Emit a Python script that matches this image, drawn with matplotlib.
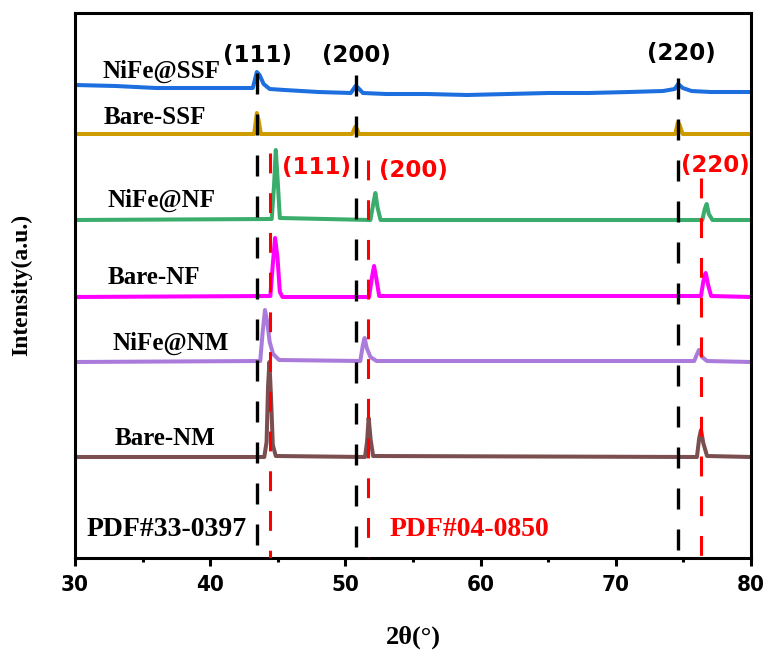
import matplotlib
matplotlib.use('Agg')
import matplotlib.pyplot as plt
from matplotlib.ticker import MultipleLocator

# 2theta / intensity points (intensity in plot units, offsets included)
ssf_nife_x = [30, 33, 36, 39, 42, 43.15, 43.45, 43.65, 43.95, 44.4, 45.5, 48, 50.4, 50.75, 50.95, 51.3,
              53, 56, 59, 62, 65, 68, 71, 73.5, 74.35, 74.62, 74.95, 75.6, 77, 80]
ssf_nife_y = [473, 472, 470, 470, 470, 470, 486, 483, 474, 469, 468, 466, 465, 472, 470, 465,
              464, 464, 463, 464, 465, 465, 466, 467, 469, 474, 470, 467, 466, 466]

ssf_bare_x = [30, 43.25, 43.45, 43.58, 43.75, 50.5, 50.72, 50.85, 51.0, 74.4, 74.6, 74.72, 74.95, 80]
ssf_bare_y = [424, 424, 445, 438, 424, 424, 431, 429, 424, 424, 436, 433, 424, 424]

nf_nife_x = [30, 44.55, 44.72, 44.85, 44.98, 45.15, 51.85, 52.07, 52.22, 52.37, 52.6, 76.4, 76.58, 76.72, 76.88, 77.15, 80]
nf_nife_y = [338, 339, 372, 408, 380, 340, 338, 355, 365, 351, 338, 338, 349, 354, 344, 338, 338]

nf_bare_x = [30, 44.45, 44.62, 44.8, 44.98, 45.15, 45.35, 51.75, 51.97, 52.12, 52.28, 52.5, 76.3, 76.48, 76.65, 76.83, 77.05, 80]
nf_bare_y = [261, 262, 292, 320, 300, 266, 261, 261, 281, 292, 280, 262, 262, 277, 285, 273, 262, 261]

nm_nife_x = [30, 43.7, 43.88, 44.05, 44.22, 44.4, 44.65, 45.1, 51.1, 51.28, 51.42, 51.58, 51.85, 52.3,
             75.8, 75.98, 76.15, 76.38, 76.75, 80]
nm_nife_y = [196, 197, 226, 248, 236, 216, 204, 198, 197, 212, 220, 210, 201, 197,
             197, 203, 208, 201, 197, 196]

nm_bare_x = [30, 44.0, 44.17, 44.28, 44.38, 44.5, 44.63, 44.85, 51.45, 51.6, 51.72, 51.87, 52.05,
             76.0, 76.17, 76.3, 76.47, 76.75, 80]
nm_bare_y = [101, 101, 116, 172, 196, 160, 113, 102, 101, 116, 140, 118, 102,
             101, 120, 128, 115, 102, 101]

series_x = [ssf_nife_x, ssf_bare_x, nf_nife_x, nf_bare_x, nm_nife_x, nm_bare_x]
series_y = [ssf_nife_y, ssf_bare_y, nf_nife_y, nf_bare_y, nm_nife_y, nm_bare_y]
series_names = ['NiFe@SSF', 'Bare-SSF', 'NiFe@NF', 'Bare-NF', 'NiFe@NM', 'Bare-NM']
series_colors = ['#1d6fe0', '#cf9c00', '#3aad6c', '#ff00ff', '#ab7bdc', '#7b4f50']

# reference lines: PDF#33-0397 (black) and PDF#04-0850 (red)
ref_black_pos = [43.45, 50.78, 74.62]
ref_black_top = [485, 483, 480]
ref_red_pos = [44.42, 51.7, 76.3]
ref_red_top = [405, 398, 380]
hkl = ['(111)', '(200)', '(220)']

serif = 'Liberation Serif'

fig = plt.figure(figsize=(7.66, 6.53), dpi=100)
ax = fig.add_axes([75 / 766, 1 - 558 / 653, 676 / 766, 545 / 653])

for xs, ys, c in zip(series_x, series_y, series_colors):
    ax.plot(xs, ys, color=c, lw=2.9, solid_joinstyle='round', zorder=2)

for p, t in zip(ref_black_pos, ref_black_top):
    ax.plot([p, p], [t, 0], color='black', lw=2.4, dashes=(6.3, 6), zorder=3)
for p, t in zip(ref_red_pos, ref_red_top):
    ax.plot([p, p], [t, 0], color='red', lw=2.2, dashes=(6.5, 6.5), zorder=3)

# sample labels
label_xy = [(36.43, 487), (35.92, 441), (36.43, 358), (35.84, 281), (37.1, 215), (36.66, 120)]
for name, (lx, ly) in zip(series_names, label_xy):
    ax.text(lx, ly, name, family=serif, weight='bold', fontsize=18, ha='center', va='center')

ax.text(36.8, 28, 'PDF#33-0397', family=serif, weight='bold', fontsize=20, ha='center', va='center')
ax.text(59.2, 28, 'PDF#04-0850', family=serif, weight='bold', fontsize=20, ha='center', va='center',
        color='red')

black_hkl_xy = [(43.5, 503), (50.78, 503), (74.82, 505)]
red_hkl_xy = [(47.83, 391), (55.0, 388), (77.34, 393)]
for h, (hx, hy) in zip(hkl, black_hkl_xy):
    ax.text(hx, hy, h, family='DejaVu Sans', weight='bold', fontsize=16.5, ha='center', va='center')
for h, (hx, hy) in zip(hkl, red_hkl_xy):
    ax.text(hx, hy, h, family='DejaVu Sans', weight='bold', fontsize=16.5, ha='center', va='center',
            color='red')

ax.set_xlim(30, 80)
ax.set_ylim(0, 545)
ax.set_yticks([])
ax.xaxis.set_major_locator(MultipleLocator(10))
ax.xaxis.set_minor_locator(MultipleLocator(5))
ax.tick_params(axis='x', which='major', direction='out', length=6, width=2.2, pad=6)
ax.tick_params(axis='x', which='minor', direction='out', length=3, width=2.2)
for lab in ax.get_xticklabels():
    lab.set_family('DejaVu Sans')
    lab.set_weight('bold')
    lab.set_stretch('condensed')
    lab.set_fontsize(16)
for s in ax.spines.values():
    s.set_linewidth(2.2)

fig.text(413 / 766, 1 - 637 / 653, '2θ(°)', family=serif, weight='bold', fontsize=19,
         ha='center', va='center')
fig.text(22 / 766, 1 - 285 / 653, 'Intensity(a.u.)', family=serif, weight='bold', fontsize=17,
         ha='center', va='center', rotation=90)

fig.savefig('out.png', dpi=100)
